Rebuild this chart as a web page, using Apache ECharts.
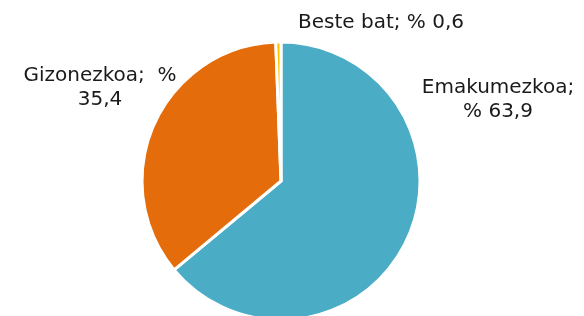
<!DOCTYPE html>
<html>
<head>
<meta charset="utf-8">
<script src="https://cdn.jsdelivr.net/npm/echarts@6/dist/echarts.min.js"></script>
<style>
  html, body { margin: 0; padding: 0; background: #fff; }
  #main { width: 584px; height: 316px; }
</style>
</head>
<body>
<div id="main"></div>
<script>
// sexua banaketa
var names = ['Emakumezkoa', 'Gizonezkoa', 'Beste bat'];
var values = [63.9, 35.4, 0.6];
var labelTexts = ['Emakumezkoa;\n% 63,9', 'Gizonezkoa;  %\n35,4', 'Beste bat; % 0,6'];
var colors = ['#4BACC6', '#E46C0A', '#FFC000'];

// label spots (px)
var labelPos = [[498, 100], [100, 88], [381, 23]];

var chart = echarts.init(document.getElementById('main'));

var option = {
  animation: false,
  series: [
    {
      type: 'pie',
      center: [281, 181],
      radius: 139,
      startAngle: 90,
      clockwise: true,
      data: names.map(function (n, i) {
        return { name: n, value: values[i], itemStyle: { color: colors[i] } };
      }),
      itemStyle: {
        borderColor: '#fff',
        borderWidth: 3
      },
      label: {
        show: true,
        position: 'outside',
        formatter: function (p) {
          return labelTexts[p.dataIndex];
        },
        fontFamily: 'DejaVu Sans',
        fontSize: 20,
        lineHeight: 24,
        color: '#1a1a1a',
        align: 'center',
        overflow: 'none'
      },
      labelLine: { show: false },
      labelLayout: function (params) {
        var p = labelPos[params.dataIndex];
        return { x: p[0], y: p[1], align: 'center', verticalAlign: 'middle' };
      },
      emphasis: { disabled: true }
    }
  ]
};
chart.setOption(option);
</script>
</body>
</html>
